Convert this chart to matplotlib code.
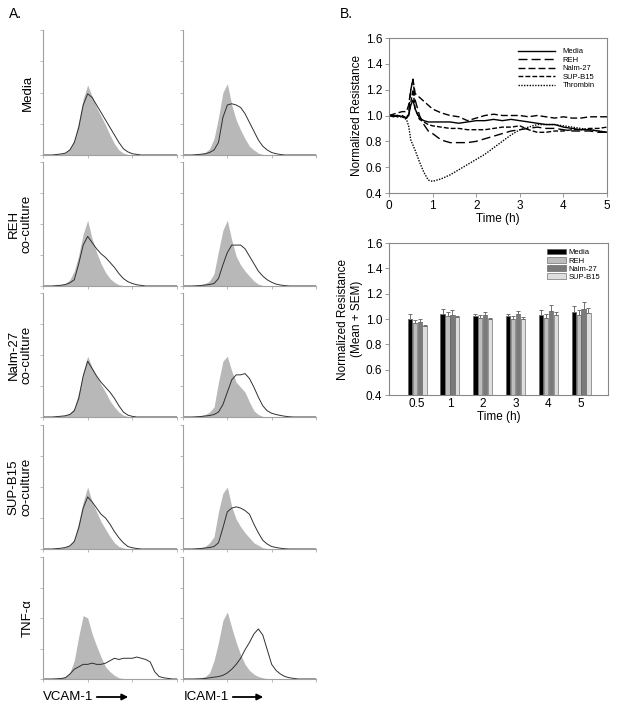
import numpy as np
import matplotlib
matplotlib.use("Agg")
import matplotlib.pyplot as plt

plt.rcParams['font.family'] = ['Liberation Sans', 'DejaVu Sans']

# ---- Panel A: flow histograms (fraction of axis height, 0.1-decade steps) ----
log_fluor = np.linspace(0, 3, 31)

media_vcam_iso = [0, 0, 0, 0.005, 0.01, 0.02, 0.05, 0.12, 0.27, 0.45, 0.56, 0.47, 0.38, 0.31, 0.24, 0.16,
                  0.09, 0.04, 0.015, 0.005, 0, 0, 0, 0, 0, 0, 0, 0, 0, 0, 0]
media_vcam_stain = [0, 0, 0, 0.004, 0.008, 0.015, 0.04, 0.1, 0.22, 0.4, 0.49, 0.46, 0.4, 0.34, 0.28, 0.22,
                    0.16, 0.1, 0.05, 0.025, 0.01, 0.005, 0, 0, 0, 0, 0, 0, 0, 0, 0]
media_icam_iso = [0, 0, 0, 0.004, 0.01, 0.02, 0.05, 0.13, 0.3, 0.5, 0.57, 0.4, 0.28, 0.2, 0.13, 0.07,
                  0.04, 0.015, 0.005, 0, 0, 0, 0, 0, 0, 0, 0, 0, 0, 0, 0]
media_icam_stain = [0, 0, 0, 0.003, 0.006, 0.01, 0.02, 0.04, 0.1, 0.3, 0.4, 0.41, 0.4, 0.38, 0.33, 0.26,
                    0.19, 0.12, 0.07, 0.04, 0.02, 0.01, 0.004, 0, 0, 0, 0, 0, 0, 0, 0]

reh_vcam_iso = [0, 0, 0, 0.004, 0.01, 0.02, 0.05, 0.12, 0.25, 0.42, 0.53, 0.38, 0.27, 0.18, 0.11, 0.06,
                0.03, 0.01, 0.004, 0, 0, 0, 0, 0, 0, 0, 0, 0, 0, 0, 0]
reh_vcam_stain = [0, 0, 0, 0.003, 0.006, 0.012, 0.025, 0.05, 0.18, 0.33, 0.4, 0.35, 0.3, 0.26, 0.23, 0.19,
                  0.15, 0.1, 0.06, 0.035, 0.02, 0.01, 0.005, 0, 0, 0, 0, 0, 0, 0, 0]
reh_icam_iso = [0, 0, 0, 0.004, 0.01, 0.02, 0.04, 0.1, 0.28, 0.45, 0.53, 0.37, 0.24, 0.17, 0.12, 0.08,
                0.04, 0.015, 0.005, 0, 0, 0, 0, 0, 0, 0, 0, 0, 0, 0, 0]
reh_icam_stain = [0, 0, 0, 0.002, 0.004, 0.008, 0.012, 0.02, 0.06, 0.17, 0.27, 0.33, 0.33, 0.33, 0.3, 0.24,
                  0.18, 0.12, 0.08, 0.05, 0.03, 0.015, 0.008, 0.003, 0, 0, 0, 0, 0, 0, 0]

nalm_vcam_iso = [0, 0, 0, 0.004, 0.008, 0.015, 0.03, 0.07, 0.2, 0.36, 0.49, 0.4, 0.33, 0.26, 0.2, 0.13,
                 0.08, 0.04, 0.015, 0.005, 0, 0, 0, 0, 0, 0, 0, 0, 0, 0, 0]
nalm_vcam_stain = [0, 0, 0, 0.003, 0.006, 0.01, 0.02, 0.05, 0.15, 0.33, 0.45, 0.39, 0.33, 0.28, 0.24, 0.2,
                   0.15, 0.09, 0.04, 0.015, 0.005, 0, 0, 0, 0, 0, 0, 0, 0, 0, 0]
nalm_icam_iso = [0, 0, 0, 0.004, 0.01, 0.02, 0.04, 0.08, 0.28, 0.45, 0.49, 0.37, 0.28, 0.24, 0.2, 0.12,
                 0.05, 0.02, 0.005, 0, 0, 0, 0, 0, 0, 0, 0, 0, 0, 0, 0]
nalm_icam_stain = [0, 0, 0, 0.002, 0.004, 0.008, 0.012, 0.02, 0.04, 0.1, 0.2, 0.3, 0.34, 0.34, 0.35, 0.31,
                   0.24, 0.16, 0.09, 0.05, 0.03, 0.02, 0.012, 0.006, 0.002, 0, 0, 0, 0, 0, 0]

sup_vcam_iso = [0, 0, 0, 0.004, 0.008, 0.015, 0.03, 0.08, 0.22, 0.38, 0.5, 0.38, 0.3, 0.22, 0.16, 0.1,
                0.05, 0.02, 0.008, 0, 0, 0, 0, 0, 0, 0, 0, 0, 0, 0, 0]
sup_vcam_stain = [0, 0, 0, 0.003, 0.006, 0.012, 0.025, 0.06, 0.17, 0.33, 0.42, 0.38, 0.33, 0.28, 0.25, 0.2,
                  0.14, 0.09, 0.05, 0.02, 0.01, 0.004, 0, 0, 0, 0, 0, 0, 0, 0, 0]
sup_icam_iso = [0, 0, 0, 0.004, 0.01, 0.02, 0.05, 0.1, 0.3, 0.45, 0.5, 0.34, 0.24, 0.18, 0.13, 0.09,
                0.05, 0.03, 0.01, 0.003, 0, 0, 0, 0, 0, 0, 0, 0, 0, 0, 0]
sup_icam_stain = [0, 0, 0, 0.002, 0.004, 0.008, 0.012, 0.02, 0.05, 0.17, 0.3, 0.33, 0.34, 0.33, 0.31, 0.28,
                  0.2, 0.13, 0.07, 0.04, 0.02, 0.012, 0.006, 0.002, 0, 0, 0, 0, 0, 0, 0]

tnf_vcam_iso = [0, 0, 0, 0.004, 0.01, 0.02, 0.05, 0.15, 0.35, 0.52, 0.5, 0.37, 0.27, 0.18, 0.1, 0.06,
                0.03, 0.01, 0.004, 0, 0, 0, 0, 0, 0, 0, 0, 0, 0, 0, 0]
tnf_vcam_stain = [0, 0, 0, 0.002, 0.004, 0.01, 0.04, 0.08, 0.1, 0.12, 0.12, 0.13, 0.12, 0.12, 0.13, 0.15,
                  0.17, 0.16, 0.17, 0.17, 0.17, 0.18, 0.17, 0.16, 0.14, 0.06, 0.02, 0.01, 0.005, 0, 0]
tnf_icam_iso = [0, 0, 0, 0.004, 0.01, 0.02, 0.05, 0.15, 0.3, 0.48, 0.55, 0.42, 0.3, 0.2, 0.12, 0.07,
                0.04, 0.02, 0.01, 0.003, 0, 0, 0, 0, 0, 0, 0, 0, 0, 0, 0]
tnf_icam_stain = [0, 0, 0, 0.001, 0.002, 0.004, 0.01, 0.015, 0.02, 0.03, 0.05, 0.08, 0.12, 0.17, 0.24, 0.3,
                  0.37, 0.41, 0.36, 0.24, 0.12, 0.07, 0.04, 0.02, 0.01, 0.005, 0, 0, 0, 0, 0]

row_labels = ["Media", "REH\nco-culture", "Nalm-27\nco-culture", "SUP-B15\nco-culture", "TNF-α"]
hist_rows = [
    (media_vcam_iso, media_vcam_stain, media_icam_iso, media_icam_stain),
    (reh_vcam_iso, reh_vcam_stain, reh_icam_iso, reh_icam_stain),
    (nalm_vcam_iso, nalm_vcam_stain, nalm_icam_iso, nalm_icam_stain),
    (sup_vcam_iso, sup_vcam_stain, sup_icam_iso, sup_icam_stain),
    (tnf_vcam_iso, tnf_vcam_stain, tnf_icam_iso, tnf_icam_stain),
]

# ---- Panel B top: ECIS time course ----
time_h = [0, 0.1, 0.2, 0.3, 0.4, 0.45, 0.5, 0.55, 0.6, 0.7, 0.8, 0.9, 1.0, 1.2, 1.4, 1.6, 1.8,
          2.0, 2.2, 2.4, 2.6, 2.8, 3.0, 3.2, 3.4, 3.6, 3.8, 4.0, 4.2, 4.4, 4.6, 4.8, 5.0]
media_res = [1.0, 0.99, 1.0, 0.99, 0.98, 1.0, 1.08, 1.12, 1.05, 0.98, 0.96, 0.95, 0.95, 0.95, 0.95, 0.94, 0.95,
             0.96, 0.96, 0.97, 0.96, 0.97, 0.96, 0.95, 0.94, 0.93, 0.93, 0.91, 0.90, 0.89, 0.89, 0.88, 0.87]
reh_res = [1.0, 1.0, 0.99, 1.0, 0.98, 1.02, 1.2, 1.28, 1.12, 1.0, 0.93, 0.88, 0.86, 0.81, 0.79, 0.79, 0.79,
           0.8, 0.82, 0.84, 0.86, 0.88, 0.89, 0.9, 0.91, 0.9, 0.9, 0.89, 0.88, 0.88, 0.88, 0.87, 0.87]
nalm_res = [1.0, 1.01, 1.02, 1.03, 1.03, 1.08, 1.2, 1.28, 1.17, 1.14, 1.11, 1.08, 1.05, 1.02, 1.0, 0.99, 0.96,
            0.98, 1.0, 1.01, 1.0, 1.0, 1.0, 0.99, 1.0, 0.99, 0.98, 0.99, 0.98, 0.98, 0.99, 0.99, 0.99]
sup_res = [1.0, 1.0, 1.0, 0.99, 0.98, 1.0, 1.1, 1.2, 1.05, 0.97, 0.95, 0.93, 0.92, 0.91, 0.9, 0.9, 0.89,
           0.89, 0.89, 0.9, 0.91, 0.91, 0.92, 0.89, 0.87, 0.87, 0.88, 0.88, 0.89, 0.89, 0.9, 0.9, 0.91]
thrombin_res = [1.0, 1.0, 0.99, 0.99, 0.97, 0.92, 0.81, 0.77, 0.73, 0.64, 0.56, 0.5, 0.49, 0.51, 0.54, 0.58, 0.62,
                0.66, 0.7, 0.75, 0.8, 0.85, 0.89, 0.91, 0.93, 0.93, 0.93, 0.92, 0.91, 0.9, 0.89, 0.88, 0.87]

# ---- Panel B bottom: mean + SEM ----
bar_times = ["0.5", "1", "2", "3", "4", "5"]
media_mean = [1.0, 1.043, 1.025, 1.02, 1.035, 1.057]
media_sem = [0.04, 0.037, 0.013, 0.02, 0.04, 0.043]
reh_mean = [0.97, 1.025, 1.01, 1.0, 1.01, 1.035]
reh_sem = [0.02, 0.032, 0.02, 0.02, 0.03, 0.04]
nalm_mean = [0.977, 1.035, 1.03, 1.036, 1.06, 1.08]
nalm_sem = [0.023, 0.035, 0.025, 0.031, 0.047, 0.058]
sup_mean = [0.944, 1.017, 1.0, 1.0, 1.03, 1.05]
sup_sem = [0.006, 0.01, 0.01, 0.017, 0.025, 0.04]

W, H = 620, 710
fig = plt.figure(figsize=(W / 100, H / 100), dpi=100)


def px_axes(left, top, right, bottom):
    return fig.add_axes([left / W, 1 - bottom / H, (right - left) / W, (bottom - top) / H])


row_px = [(30, 155), (162, 286), (293, 417), (425, 549), (557, 679)]
col_px = [(43, 177), (183, 316)]
spine_gray = "#a0a0a0"

for r, (top, base) in enumerate(row_px):
    for c, (left, right) in enumerate(col_px):
        iso = hist_rows[r][2 * c]
        stain = hist_rows[r][2 * c + 1]
        ax = px_axes(left, top, right, base)
        ax.fill_between(log_fluor, iso, color="#b8b8b8", lw=0)
        ax.plot(log_fluor, stain, color="#303030", lw=0.7)
        ax.set_xlim(0, 3)
        ax.set_ylim(0, 1)
        ax.set_xticks([0, 1, 2, 3])
        ax.set_yticks([0, 0.25, 0.5, 0.75, 1])
        ax.tick_params(length=2, width=0.5, color=spine_gray, labelleft=False, labelbottom=False)
        for s in ["top", "right"]:
            ax.spines[s].set_visible(False)
        for s in ["left", "bottom"]:
            ax.spines[s].set_color(spine_gray)
            ax.spines[s].set_linewidth(0.8)
    lab_x = 20 if "\n" in row_labels[r] else 28
    fig.text(lab_x / W, 1 - (top + base) / 2 / H, row_labels[r], rotation=90, ha="center", va="center",
             fontsize=9.5, multialignment="center", linespacing=1.1)

fig.text(9 / W, 1 - 14 / H, "A.", fontsize=10, va="center")
fig.text(340 / W, 1 - 14 / H, "B.", fontsize=10, va="center")

fig.text(43 / W, 1 - 697 / H, "VCAM-1", fontsize=9.5, va="center")
fig.text(184 / W, 1 - 697 / H, "ICAM-1", fontsize=9.5, va="center")
arr = dict(arrowstyle="-|>", color="k", lw=1.3, mutation_scale=9)
ax.annotate("", xy=(131 / W, 1 - 697 / H), xytext=(94 / W, 1 - 697 / H),
            xycoords="figure fraction", textcoords="figure fraction", arrowprops=arr)
ax.annotate("", xy=(266 / W, 1 - 697 / H), xytext=(230 / W, 1 - 697 / H),
            xycoords="figure fraction", textcoords="figure fraction", arrowprops=arr)

box_gray = "#888888"

# line chart
ax1 = px_axes(389, 38, 607, 193)
ax1.plot(time_h, media_res, color="k", lw=1.0, ls="-", label="Media")
ax1.plot(time_h, reh_res, color="k", lw=1.0, ls=(0, (6.5, 2.9)), label="REH")
ax1.plot(time_h, nalm_res, color="k", lw=1.0, ls=(0, (5, 2.2)), label="Nalm-27")
ax1.plot(time_h, sup_res, color="k", lw=1.0, ls=(0, (3.5, 1.5)), label="SUP-B15")
ax1.plot(time_h, thrombin_res, color="k", lw=1.0, ls=(0, (1, 1)), label="Thrombin")
ax1.set_xlim(0, 5)
ax1.set_ylim(0.4, 1.6)
ax1.set_xticks(range(6))
ax1.set_yticks(np.arange(0.4, 1.61, 0.2))
ax1.set_yticklabels(["0.4", "0.6", "0.8", "1.0", "1.2", "1.4", "1.6"])
ax1.set_xlabel("Time (h)", fontsize=8.5, labelpad=1)
ax1.set_ylabel("Normalized Resistance", fontsize=8.5, labelpad=2)
ax1.tick_params(labelsize=8.5, length=3, width=0.6, color=box_gray, pad=2)
for s in ax1.spines.values():
    s.set_color(box_gray)
    s.set_linewidth(0.8)
ax1.legend(loc="upper left", bbox_to_anchor=(0.592, 0.935), frameon=False, fontsize=5.5, handlelength=4.8,
           labelspacing=0.15, handletextpad=1.0, borderpad=0, borderaxespad=0)

# bar chart
ax2 = px_axes(389, 243, 608, 395)
xg = np.arange(len(bar_times))
bw = 0.13
groups = [("Media", media_mean, media_sem, "#000000"),
          ("REH", reh_mean, reh_sem, "#bdbdbd"),
          ("Nalm-27", nalm_mean, nalm_sem, "#7a7a7a"),
          ("SUP-B15", sup_mean, sup_sem, "#dedede")]
for i, (name, m, e, col) in enumerate(groups):
    ax2.bar(xg + (i - 1.5) * 0.15, m, bw, color=col, edgecolor="#555555", lw=0.4, label=name,
            yerr=[np.zeros(len(e)), e], error_kw=dict(ecolor="#707070", elinewidth=0.7, capsize=1.6, capthick=0.7))
ax2.set_xlim(-0.86, 5.82)
ax2.set_ylim(0.4, 1.6)
ax2.set_xticks(xg)
ax2.set_xticklabels(bar_times)
ax2.set_yticks(np.arange(0.4, 1.61, 0.2))
ax2.set_yticklabels(["0.4", "0.6", "0.8", "1.0", "1.2", "1.4", "1.6"])
ax2.set_xlabel("Time (h)", fontsize=8.5, labelpad=1)
ax2.set_ylabel("Normalized Resistance\n(Mean + SEM)", fontsize=8.5, labelpad=2)
ax2.tick_params(labelsize=8.5, length=3, width=0.6, color=box_gray, pad=2)
ax2.tick_params(axis="x", length=0)
for s in ax2.spines.values():
    s.set_color(box_gray)
    s.set_linewidth(0.8)
ax2.legend(loc="upper left", bbox_to_anchor=(0.721, 0.96), frameon=False, fontsize=5.5, handlelength=2.5,
           handleheight=0.7, labelspacing=0.1, handletextpad=0.3, borderpad=0, borderaxespad=0)

fig.savefig("out.png", dpi=100, facecolor="white")
